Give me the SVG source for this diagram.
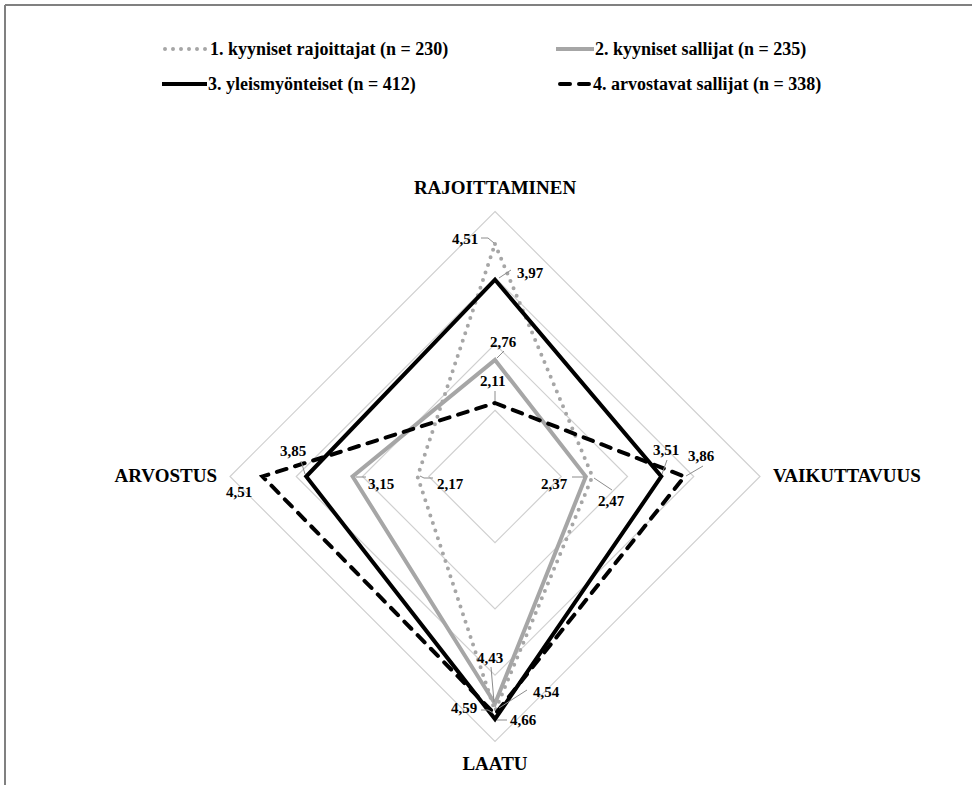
<svg xmlns="http://www.w3.org/2000/svg" width="972" height="785" viewBox="0 0 972 785">
<style>
text{font-family:"Liberation Serif","Times New Roman",serif;font-weight:bold;fill:#000}
.leg{font-size:18px}
.ax{font-size:19px}
.val{font-size:15px}
.grid{fill:none;stroke:#d0d0d0;stroke-width:1.2}
.s1{fill:none;stroke:#a6a6a6;stroke-width:4;stroke-dasharray:0 8;stroke-linecap:round}
.s2{fill:none;stroke:#a6a6a6;stroke-width:4}
.s3{fill:none;stroke:#000;stroke-width:4}
.s4{fill:none;stroke:#000;stroke-width:4;stroke-dasharray:10 9;stroke-linecap:round}
.ld{fill:none;stroke:#8c8c8c;stroke-width:1}
</style>
<rect width="972" height="785" fill="#fff"/>
<g id="frame">
<line x1="5" y1="5" x2="972" y2="5" stroke="#808080" stroke-width="2"/>
<line x1="5" y1="5" x2="5" y2="785" stroke="#808080" stroke-width="2"/>
</g>
<g id="legend">
<line class="s1" x1="165" y1="49" x2="207" y2="49"/>
<text class="leg" x="210" y="55">1. kyyniset rajoittajat (n = 230)</text>
<line class="s2" x1="556" y1="49" x2="594" y2="49"/>
<text class="leg" x="595" y="55">2. kyyniset sallijat (n = 235)</text>
<line class="s3" x1="162" y1="84" x2="207" y2="84"/>
<text class="leg" x="208" y="90">3. yleismyönteiset (n = 412)</text>
<line class="s4" x1="560" y1="84" x2="591" y2="84"/>
<text class="leg" x="593" y="90">4. arvostavat sallijat (n = 338)</text>
</g>
<g id="grid">
<polygon class="grid" points="495,410.25 561.25,476.5 495,542.75 428.75,476.5"/>
<polygon class="grid" points="495,344 627.5,476.5 495,609 362.5,476.5"/>
<polygon class="grid" points="495,277.75 693.75,476.5 495,675.25 296.25,476.5"/>
<polygon class="grid" points="495,211.5 760,476.5 495,741.5 230,476.5"/>
</g>
<g id="axis-labels">
<text class="ax" x="495" y="194" text-anchor="middle">RAJOITTAMINEN</text>
<text class="ax" x="773" y="482">VAIKUTTAVUUS</text>
<text class="ax" x="495" y="770" text-anchor="middle">LAATU</text>
<text class="ax" x="217" y="482" text-anchor="end">ARVOSTUS</text>
</g>
<g id="series">
<polygon id="s2" class="s2" points="495,359.9 585.8,476.5 495,703.7 352.6,476.5"/>
<polygon id="s1" class="s1" points="495,244 592.4,476.5 495,711 417.5,476.5"/>
<polygon id="s3" class="s3" points="495,279.7 661.3,476.5 495,719 306.2,476.5"/>
<polygon id="s4" class="s4" points="495,403 684.5,476.5 495,714.3 262.5,476.5"/>
</g>
<g id="leaders">
<polyline class="ld" points="481,238 488,238 494,243"/>
<line class="ld" x1="511" y1="270" x2="499" y2="278"/>
<line class="ld" x1="504" y1="351" x2="497" y2="358"/>
<line class="ld" x1="495" y1="391" x2="495" y2="401"/>
<line class="ld" x1="301" y1="461" x2="305" y2="474"/>
<line class="ld" x1="356" y1="477" x2="366" y2="477"/>
<polyline class="ld" points="420,476 424,478 433,478"/>
<line class="ld" x1="572" y1="477" x2="584" y2="477"/>
<line class="ld" x1="594" y1="478" x2="612" y2="490"/>
<line class="ld" x1="667" y1="460" x2="662" y2="474"/>
<line class="ld" x1="703" y1="466" x2="686" y2="476"/>
<line class="ld" x1="491" y1="667" x2="494" y2="702"/>
<line class="ld" x1="527" y1="690" x2="499" y2="708"/>
<polyline class="ld" points="481,710 488,710 493,713"/>
<line class="ld" x1="497" y1="720" x2="507" y2="720"/>
</g>
<g id="values">
<text class="val" x="452" y="244">4,51</text>
<text class="val" x="517" y="278">3,97</text>
<text class="val" x="490" y="347">2,76</text>
<text class="val" x="480" y="386">2,11</text>
<text class="val" x="280" y="456">3,85</text>
<text class="val" x="226" y="497">4,51</text>
<text class="val" x="368" y="489">3,15</text>
<text class="val" x="437" y="489">2,17</text>
<text class="val" x="541" y="489">2,37</text>
<text class="val" x="598" y="506">2,47</text>
<text class="val" x="653" y="455">3,51</text>
<text class="val" x="688" y="461">3,86</text>
<text class="val" x="477" y="663">4,43</text>
<text class="val" x="533" y="697">4,54</text>
<text class="val" x="451" y="713">4,59</text>
<text class="val" x="510" y="725">4,66</text>
</g>
</svg>
